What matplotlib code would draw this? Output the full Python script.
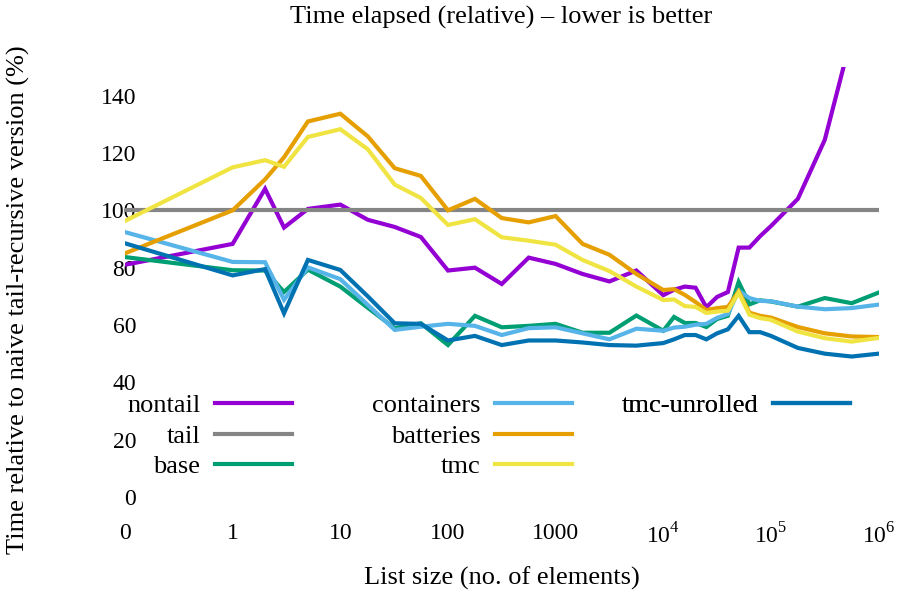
import numpy as np
import matplotlib.pyplot as plt

# list sizes (0 is drawn at the 0.1 position of the log axis)
sizes = [0, 1, 2, 3, 5, 10, 18, 32, 56, 100, 178, 316, 562, 1000, 1778, 3162, 5623,
         10000, 12589, 15849, 19953, 25119, 31623, 39811, 50119, 63096, 79433,
         100000, 177828, 316228, 562341, 1000000]

nontail = [81, 88.3, 107.5, 94, 100.5, 102, 96.7, 94.2, 90.7, 79, 80, 74.3, 83.5, 81.3, 77.8, 75.2,
           79, 70.4, 72.3, 73.4, 73, 66.2, 69.8, 71.5, 87, 87, 91, 94.5, 104, 124.6, 161, 200]
tail = [100, 100, 100, 100, 100, 100, 100, 100, 100, 100, 100, 100, 100, 100, 100, 100,
        100, 100, 100, 100, 100, 100, 100, 100, 100, 100, 100, 100, 100, 100, 100, 100]
base = [83.7, 79.1, 79, 71.5, 79.3, 73.4, 66, 58.9, 60.6, 53, 63.2, 59.2, 59.7, 60.4, 57.3, 57.3,
        63.3, 58, 62.8, 60.7, 60.7, 59.3, 62.1, 63.2, 75, 67.2, 68.6, 68.2, 66.4, 69.4, 67.6, 71.3]
containers = [92.4, 82, 81.9, 68.8, 80.1, 76, 67, 58.3, 59.4, 60.4, 59.7, 56.5, 58.9, 59.2, 57.1, 55,
              58.7, 58, 59.1, 59.4, 60.1, 60.4, 62.5, 63.8, 72, 69.4, 68.4, 68.3, 66.4, 65.5, 65.9, 67.1]
batteries = [85, 100, 110.8, 118.5, 131, 133.7, 125.8, 114.7, 112, 100, 104, 97.3, 95.8, 98, 88.3, 84.5,
             77.8, 72.2, 72.5, 70.5, 68, 65.2, 65.9, 66.3, 71.7, 64.3, 63.2, 62.6, 59.3, 57.1, 56, 55.8]
tmc = [96.3, 115, 117.5, 115.2, 125.6, 128.3, 121.3, 109, 104.3, 94.9, 96.9, 90.6, 89.4, 88, 82.7, 78.8,
       73.4, 68.7, 68.9, 66.6, 66.3, 64.2, 64.7, 65, 71.3, 63.6, 62.4, 61.8, 57.7, 55.4, 54.2, 55.5]
tmc_unrolled = [88.5, 77.3, 79.5, 64.1, 82.7, 79.2, 70, 60.6, 60.4, 54.6, 56.2, 53, 54.6, 54.6, 53.9, 53,
                52.8, 53.7, 55, 56.5, 56.5, 55, 57.1, 58.5, 63.2, 57.5, 57.5, 56.2, 52, 50, 49, 50]

xtick_vals = [0.1, 1, 10, 100, 1000, 1e4, 1e5, 1e6]
xtick_labels = ['0', '1', '10', '100', '1000', '$10^4$', '$10^5$', '$10^6$']

plt.rcParams['font.family'] = ['Liberation Serif', 'DejaVu Serif']
plt.rcParams['mathtext.fontset'] = 'custom'
plt.rcParams['mathtext.rm'] = 'Liberation Serif'
plt.rcParams['font.size'] = 19

x = [0.1 if s == 0 else s for s in sizes]

fig = plt.figure(figsize=(8.98, 5.98), dpi=100)
ax = fig.add_axes([125 / 898, 101 / 598, 753.6 / 898, 430 / 598])

series = [
    ('nontail', nontail, '#9400d3'),
    ('tail', tail, '#858585'),
    ('base', base, '#009e73'),
    ('containers', containers, '#56b4e9'),
    ('batteries', batteries, '#e69f00'),
    ('tmc', tmc, '#f0e442'),
    ('tmc-unrolled', tmc_unrolled, '#0072b2'),
]
handles = []
for name, vals, col in series:
    h, = ax.plot(x, vals, color=col, lw=3, label=name, solid_joinstyle='miter')
    handles.append(h)

ax.set_xscale('log')
ax.set_xlim(0.1, 1e6)
ax.set_ylim(0, 150)
ax.set_xticks(xtick_vals)
ax.set_xticklabels(xtick_labels)
ax.minorticks_off()
ax.set_yticks(range(0, 141, 20))
ax.tick_params(axis='both', length=0, labelsize=17)
ax.tick_params(axis='x', pad=19)
ax.tick_params(axis='y', pad=-8)
for s in ax.spines.values():
    s.set_visible(False)

fig.text(501 / 898, 1 - 17 / 598, 'Time elapsed (relative) \u2013 lower is better', ha='center', va='center')
fig.text(502 / 898, 1 - 578 / 598, 'List size (no. of elements)', ha='center', va='center')
fig.text(18 / 898, 1 - 300 / 598, 'Time relative to naive tail-recursive version (%)',
         ha='center', va='center', rotation=90)

# three one-column legends, gnuplot style (text right-aligned before the sample)
groups = [(handles[0:3], 292), (handles[3:6], 572), (handles[6:7], 850)]
for hs, xr in groups:
    leg = ax.legend(handles=hs, loc='upper right', bbox_to_anchor=(xr / 898, 1 - 394 / 598),
                    bbox_transform=fig.transFigure, frameon=False, markerfirst=False,
                    handlelength=2.9, handletextpad=0.57, labelspacing=0.26,
                    borderpad=0, borderaxespad=0)
    ax.add_artist(leg)

fig.savefig('out.png', dpi=100)
